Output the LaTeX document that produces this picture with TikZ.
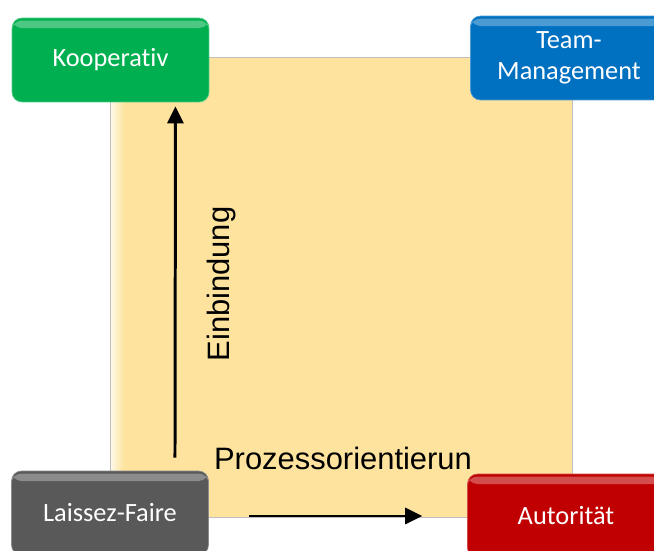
\documentclass[tikz,border=0pt]{standalone}
\usepackage{fontspec}
\setmainfont{Liberation Sans}
\newfontfamily\boxfont[Ligatures=NoCommon]{Carlito}
\usetikzlibrary{arrows.meta,positioning}

\definecolor{koopgreen}{RGB}{0,176,80}
\definecolor{teamblue}{RGB}{0,112,192}
\definecolor{laissezgrey}{RGB}{89,89,89}
\definecolor{autored}{RGB}{192,0,0}
\definecolor{fieldyellow}{RGB}{253,227,158}

\begin{document}
\begin{tikzpicture}[x=0.02cm, y=-0.02cm]
        \tikzstyle{stylebox} = [rounded corners=0.2cm, minimum width=3.94cm, minimum height=1.68cm,
            text=white, align=center, font=\boxfont\fontsize{15}{17.5}\selectfont,
            path picture={
                \fill[white, opacity=0.3] ([yshift=-0.05cm]path picture bounding box.north west)
                    rectangle ([yshift=-0.2cm]path picture bounding box.north east);
            }];
        \tikzstyle{axislabel} = [font=\fontsize{17.6}{20}\selectfont, black];
        \tikzstyle{axisarrow} = [line width=1.7pt, -{Triangle[length=0.34cm, width=0.32cm]}];

        \useasboundingbox (0,0) rectangle (654,551);
        \clip (0,0) rectangle (654,551);

        % style field
        \fill[fieldyellow] (110,57) rectangle (572,517);
        \shade[left color=white!80!fieldyellow, right color=fieldyellow] (110,57) rectangle (124,517);
        \draw[black!25, line width=0.4pt] (110,57) rectangle (572,517);

        % leadership styles
        \node [stylebox, fill=koopgreen, draw=koopgreen!70!white] (koop) at (110.5,60) {Kooperativ};
        \node [stylebox, fill=teamblue, draw=teamblue!70!white] (team) at (569,58) {Team-\\Management};
        \node [stylebox, fill=laissezgrey, draw=laissezgrey!70!white] (laissez) at (110,513) {Laissez-Faire};
        \node [stylebox, fill=autored, draw=autored!70!white] (autor) at (566,516) {Autorität};

        % axes
        \draw [axisarrow] ([xshift=1.3cm, yshift=0.26cm]laissez.north) -- ([xshift=1.3cm, yshift=-0.08cm]koop.south);
        \draw [axisarrow] ([xshift=0.8cm]laissez.east |- autor.west) -- ([xshift=-0.9cm]autor.west);
        \node [axislabel, rotate=90] (ein) at (222,284) {Einbindung};
        \node [axislabel] (proz) at (343,458) {Prozessorientierun};
\end{tikzpicture}
\end{document}
